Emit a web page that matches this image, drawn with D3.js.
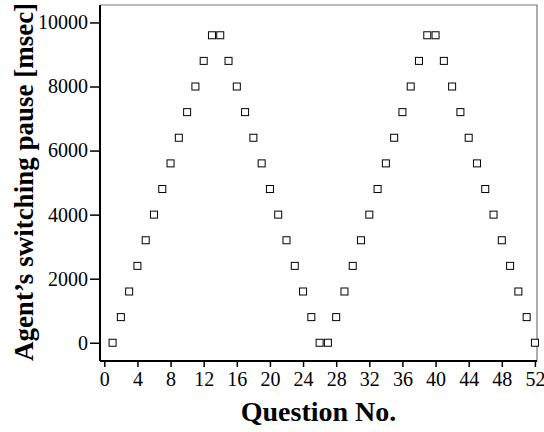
<!DOCTYPE html>
<html>
<head>
<meta charset="utf-8">
<script src="https://cdn.jsdelivr.net/npm/d3@7"></script>
<style>
body { margin: 0; background: #fff; }
</style>
</head>
<body>
<script>
// question numbers and the pause values
const questions = d3.range(1, 53);
const pauses = [
    0, 800, 1600, 2400, 3200, 4000, 4800, 5600, 6400, 7200, 8000, 8800, 9600,
    9600, 8800, 8000, 7200, 6400, 5600, 4800, 4000, 3200, 2400, 1600, 800, 0,
    0, 800, 1600, 2400, 3200, 4000, 4800, 5600, 6400, 7200, 8000, 8800, 9600,
    9600, 8800, 8000, 7200, 6400, 5600, 4800, 4000, 3200, 2400, 1600, 800, 0
];
const xTicks = d3.range(0, 53, 4);
const yTicks = [0, 2000, 4000, 6000, 8000, 10000];

const width = 544, height = 432;
const plotLeft = 100, plotRight = 537, plotTop = 5, plotBottom = 361;
const serif = "'Liberation Serif', 'Times New Roman', serif";

const svg = d3.select("body").append("svg")
    .attr("width", width)
    .attr("height", height);

const x = d3.scaleLinear().domain([-0.52, 52.25]).range([plotLeft, plotRight]);
const y = d3.scaleLinear().domain([-570, 10545]).range([plotBottom, plotTop]);

// top and right frame lines (gray)
svg.append("path")
    .attr("d", `M${plotLeft},${plotTop}H${plotRight}V${plotBottom}`)
    .attr("fill", "none")
    .attr("stroke", "#777")
    .attr("stroke-width", 1.2);

// y axis
const yAxis = svg.append("g")
    .attr("transform", `translate(${plotLeft},0)`)
    .call(d3.axisLeft(y).tickValues(yTicks).tickFormat(d3.format("d"))
        .tickSize(10).tickPadding(2).tickSizeOuter(0));

// x axis
const xAxis = svg.append("g")
    .attr("transform", `translate(0,${plotBottom})`)
    .call(d3.axisBottom(x).tickValues(xTicks).tickFormat(d3.format("d"))
        .tickSize(6).tickPadding(5).tickSizeOuter(0));

[yAxis, xAxis].forEach(g => {
    g.select(".domain").attr("stroke", "#000").attr("stroke-width", 2);
    g.selectAll(".tick line").attr("stroke", "#000").attr("stroke-width", 1.5);
    g.selectAll(".tick text")
        .attr("fill", "#000")
        .style("font-family", serif)
        .style("font-size", "20px");
});
yAxis.select(".domain").attr("d", `M0,${plotTop}V${plotBottom}`);
xAxis.select(".domain").attr("d", `M${plotLeft},0H${plotRight}`);

// markers
svg.append("g").selectAll("rect")
    .data(questions)
    .enter()
    .append("rect")
    .attr("x", (d, i) => x(d) - 3.5)
    .attr("y", (d, i) => y(pauses[i]) - 3.5)
    .attr("width", 7)
    .attr("height", 7)
    .attr("fill", "#fff")
    .attr("stroke", "#000")
    .attr("stroke-width", 1);

// axis titles
svg.append("text")
    .attr("x", (plotLeft + plotRight) / 2)
    .attr("y", 421)
    .attr("text-anchor", "middle")
    .style("font-family", serif)
    .style("font-size", "28px")
    .style("font-weight", "bold")
    .text("Question No.");

svg.append("text")
    .attr("transform", "translate(33,182) rotate(-90)")
    .attr("text-anchor", "middle")
    .style("font-family", serif)
    .style("font-size", "27px")
    .style("font-weight", "bold")
    .text("Agent’s switching pause [msec]");
</script>
</body>
</html>
